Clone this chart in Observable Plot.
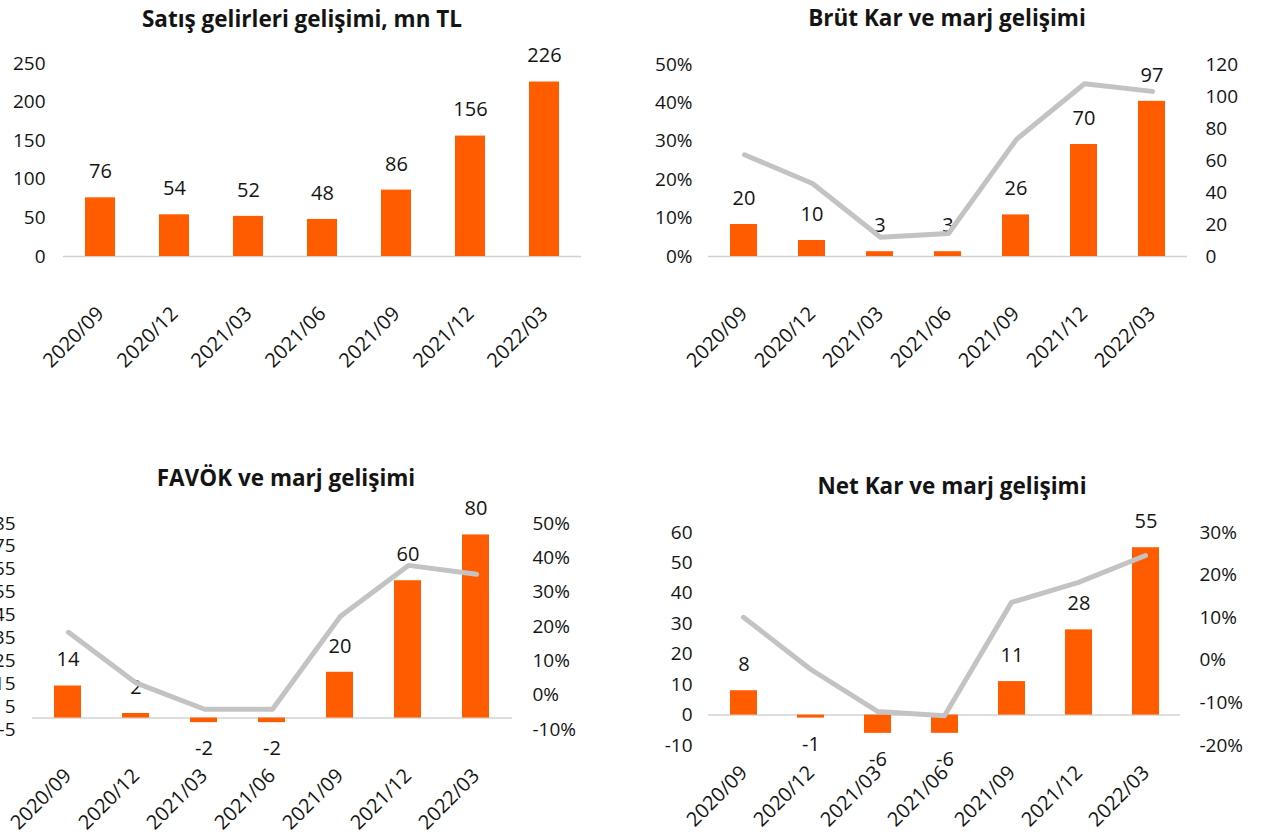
<!DOCTYPE html>
<html>
<head>
<meta charset="utf-8">
<script src="https://cdn.jsdelivr.net/npm/d3@7"></script>
<script src="https://cdn.jsdelivr.net/npm/@observablehq/plot@0.6"></script>
<style>
  body { margin: 0; background: #fff; }
  #page { position: relative; width: 1263px; height: 840px; overflow: hidden; font-family: "Open Sans", sans-serif; background: #fff; }
  #page svg { position: absolute; left: 0; top: 0; }
  .title { position: absolute; font-weight: 700; font-size: 22.5px; color: #141414; transform: translate(-50%, -50%); white-space: nowrap; }
</style>
</head>
<body>
<div id="page"></div>
<script>
// ---- data ----
const periods = ["2020/09", "2020/12", "2021/03", "2021/06", "2021/09", "2021/12", "2022/03"];

const sales = [76, 54, 52, 48, 86, 156, 226];                  // Satış gelirleri, mn TL
const grossProfit = [20, 10, 3, 3, 26, 70, 97];                // Brüt Kar
const grossMargin = [26.5, 19, 5, 6, 30.5, 45, 43];            // Brüt marj %
const ebitda = [14, 2, -2, -2, 20, 60, 80];                    // FAVÖK
const ebitdaMargin = [18.3, 3.5, -4.1, -4.1, 23, 37.8, 35.2];  // FAVÖK marjı %
const netProfit = [8, -1, -6, -6, 11, 28, 55];                 // Net Kar
const netMargin = [10.1, -2.1, -12, -13, 13.6, 18.3, 24.6];    // Net marj %

const titles = ["Satış gelirleri gelişimi, mn TL", "Brüt Kar ve marj gelişimi", "FAVÖK ve marj gelişimi", "Net Kar ve marj gelişimi"];

const salesTicks = [0, 50, 100, 150, 200, 250];
const grossProfitTicks = [0, 20, 40, 60, 80, 100, 120];
const grossMarginTicks = [0, 10, 20, 30, 40, 50];
const ebitdaTicks = [-5, 5, 15, 25, 35, 45, 55, 65, 75, 85];
const ebitdaMarginTicks = [-10, 0, 10, 20, 30, 40, 50];
const netProfitTicks = [-10, 0, 10, 20, 30, 40, 50, 60];
const netMarginTicks = [-20, -10, 0, 10, 20, 30];

// ---- layout helpers ----
const W = 1263, H = 840;
const ORANGE = "#ff5c00", GREY = "#c3c3c3", INK = "#141414";
const page = document.getElementById("page");
const baseStyle = { background: "transparent", overflow: "visible", fontFamily: "'Open Sans', sans-serif", fontSize: "19px", color: INK };

const pct = d => d + "%";

function toRows(values) { return periods.map((p, i) => ({ period: p, value: values[i] })); }

function barPlot({ values, x0, x1, domain, range, ticks, side, pad, fmt, axisBottom, xPad }) {
  const rows = toRows(values);
  return Plot.plot({
    width: W, height: H,
    marginLeft: x0, marginRight: W - x1, marginTop: 0, marginBottom: H - axisBottom,
    style: baseStyle,
    x: { domain: periods, paddingInner: 0.6, paddingOuter: 0.3 },
    y: { domain, range },
    marks: [
      Plot.ruleY([0], { stroke: "#d2d2d2", strokeWidth: 1.5 }),
      Plot.barY(rows, { x: "period", y: "value", fill: ORANGE }),
      Plot.text(rows.filter(d => d.value >= 0), { x: "period", y: "value", text: d => String(d.value), dy: -26, lineAnchor: "middle", fontSize: 20, fill: INK }),
      Plot.text(rows.filter(d => d.value < 0), { x: "period", y: "value", text: d => String(d.value), dy: 26, lineAnchor: "middle", fontSize: 20, fill: INK }),
      Plot.axisY({ anchor: side, ticks, tickSize: 0, tickPadding: pad, tickFormat: fmt, label: null, fontSize: 19 }),
      Plot.axisX({ anchor: "bottom", tickRotate: -45, tickSize: 0, tickPadding: xPad, label: null, fontSize: 20 })
    ]
  });
}

function linePlot({ values, x0, x1, domain, range, ticks, side, pad, fmt }) {
  const rows = toRows(values);
  return Plot.plot({
    width: W, height: H,
    marginLeft: x0, marginRight: W - x1, marginTop: 0, marginBottom: 0,
    style: baseStyle,
    x: { domain: periods, paddingInner: 0.6, paddingOuter: 0.3, axis: null },
    y: { domain, range },
    marks: [
      Plot.line(rows, { x: "period", y: "value", stroke: GREY, strokeWidth: 5 }),
      Plot.axisY({ anchor: side, ticks, tickSize: 0, tickPadding: pad, tickFormat: fmt, label: null, fontSize: 19 })
    ]
  });
}

function addTitle(text, cx, cy) {
  const d = document.createElement("div");
  d.className = "title";
  d.textContent = text;
  d.style.left = cx + "px";
  d.style.top = cy + "px";
  page.appendChild(d);
}

const XOFF = 54; // distance from zero line to the x-axis label anchor

// ---- panel 1: Satış gelirleri ----
page.appendChild(barPlot({ values: sales, x0: 63, x1: 581, domain: [0, 250], range: [256, 63], ticks: salesTicks, side: "left", pad: 18, fmt: d => String(d), axisBottom: 256 + XOFF, xPad: 0 }));
addTitle(titles[0], 302, 18);

// ---- panel 2: Brüt Kar ----
page.appendChild(barPlot({ values: grossProfit, x0: 708, x1: 1187, domain: [0, 120], range: [256, 64], ticks: grossProfitTicks, side: "right", pad: 18, fmt: d => String(d), axisBottom: 256 + XOFF, xPad: 0 }));
page.appendChild(linePlot({ values: grossMargin, x0: 708, x1: 1187, domain: [0, 50], range: [256, 64], ticks: grossMarginTicks, side: "left", pad: 16, fmt: pct }));
addTitle(titles[1], 947, 17);

// ---- panel 3: FAVÖK ----
page.appendChild(barPlot({ values: ebitda, x0: 32, x1: 512, domain: [-5, 85], range: [729, 523], ticks: ebitdaTicks, side: "left", pad: 17, fmt: d => String(d), axisBottom: 718 + XOFF, xPad: 0 }));
page.appendChild(linePlot({ values: ebitdaMargin, x0: 32, x1: 512, domain: [-10, 50], range: [729, 523], ticks: ebitdaMarginTicks, side: "right", pad: 20, fmt: pct }));
addTitle(titles[2], 286, 477);

// ---- panel 4: Net Kar ----
page.appendChild(barPlot({ values: netProfit, x0: 708, x1: 1180, domain: [-10, 60], range: [745, 532], ticks: netProfitTicks, side: "left", pad: 16, fmt: d => String(d), axisBottom: 715 + XOFF, xPad: 0 }));
page.appendChild(linePlot({ values: netMargin, x0: 708, x1: 1180, domain: [-20, 30], range: [745, 532], ticks: netMarginTicks, side: "right", pad: 19, fmt: pct }));
addTitle(titles[3], 952, 485);
</script>
</body>
</html>
